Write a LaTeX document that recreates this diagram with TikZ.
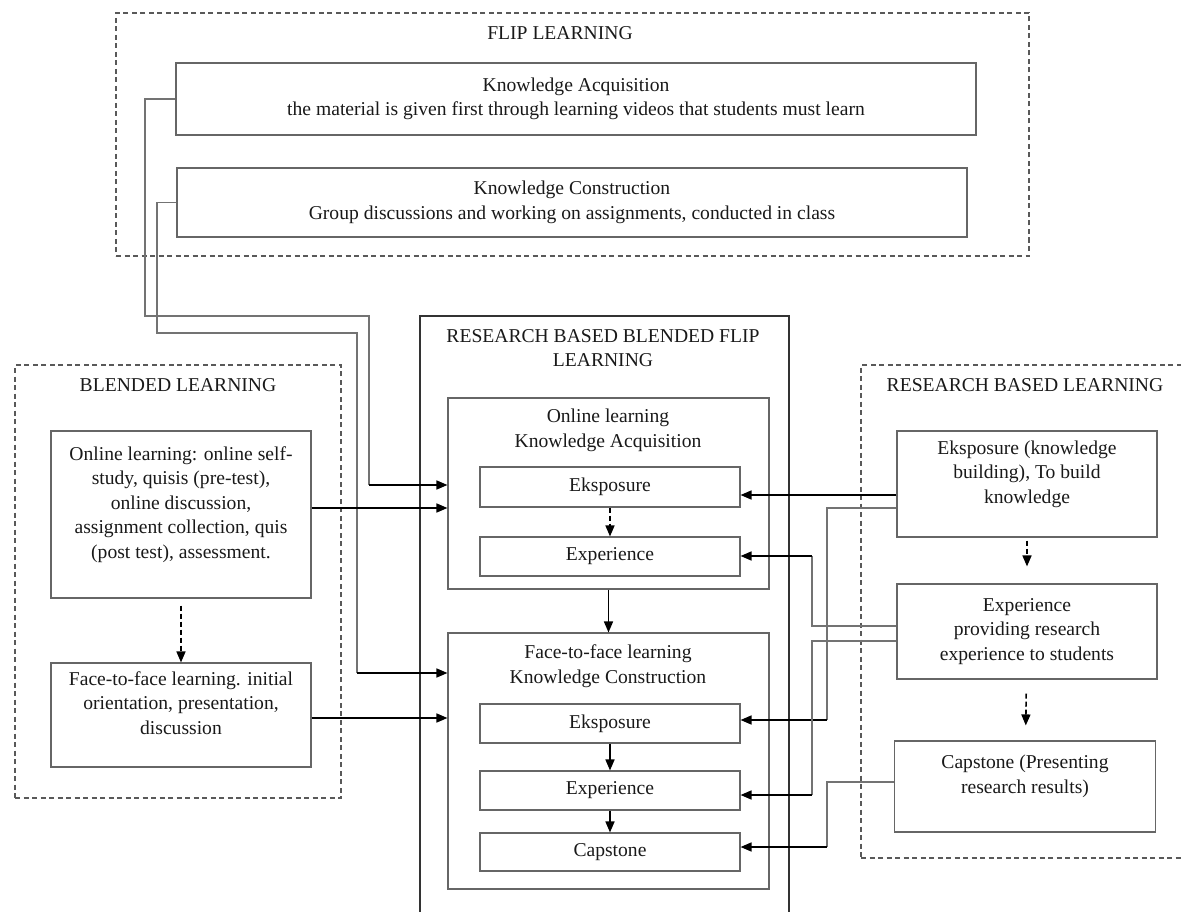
\documentclass[tikz,border=0pt]{standalone}
\usepackage{fontspec}
\setmainfont{Liberation Serif}
\usetikzlibrary{arrows.meta}
\tikzset{
  box/.style={draw=black!60, line width=1.1pt, inner sep=0pt},
  group/.style={draw=black!65, line width=1.1pt, dash pattern=on 5pt off 3.5pt},
  link/.style={draw=black!55, line width=1.1pt},
  arr/.style={line width=1.6pt, -{Triangle[length=11pt,width=9pt]}},
  dasharr/.style={arr, dash pattern=on 5pt off 3pt},
}
\begin{document}
\begin{tikzpicture}[x=1pt,y=-1pt,font=\fontsize{19.6}{24.5}\selectfont,text=black!90,align=center]
\useasboundingbox (0,0) rectangle (1181,912);
\node[group, minimum width=913, minimum height=243] (flip) at (572.5,134.5) {};
\node (fliptitle) at (560,33) {FLIP LEARNING};
\node[box, minimum width=800, minimum height=72] (ka) at (576,99) {Knowledge Acquisition\\the material is given first through learning videos that students must learn};
\node[box, minimum width=790, minimum height=69] (kc) at (572,202.5) {Knowledge Construction\\Group discussions and working on assignments, conducted in class};
\node[box, draw=black!80, minimum width=369, minimum height=620] (rbbfl) at (604.5,626) {};
\node (rbbfltitle) at (603,348) {RESEARCH BASED BLENDED FLIP\\LEARNING};
\node[box, minimum width=321, minimum height=191] (online) at (608.5,493.5) {};
\node (onlinetitle) at (608,430.5) {Online learning\\Knowledge Acquisition};
\node[box, minimum width=260, minimum height=40] (eksA) at (610,487) {Eksposure};
\node[box, minimum width=260, minimum height=39] (expA) at (610,556.5) {Experience};
\node[box, minimum width=321, minimum height=256] (f2f) at (608.5,761) {};
\node (f2ftitle) at (608,666) {Face-to-face learning\\Knowledge Construction};
\node[box, minimum width=260, minimum height=39] (eksB) at (610,723.5) {Eksposure};
\node[box, minimum width=260, minimum height=39] (expB) at (610,790.5) {Experience};
\node[box, minimum width=260, minimum height=38] (capB) at (610,852) {Capstone};
\node[group, minimum width=326, minimum height=433] (blended) at (178,581.5) {};
\node (blendedtitle) at (178,385) {BLENDED LEARNING};
\node[box, minimum width=260, minimum height=167] (blonline) at (181,514.5) {Online learning: online self-\\study, quisis (pre-test),\\online discussion,\\assignment collection, quis\\(post test), assessment.\\\mbox{}};
\node[box, minimum width=260, minimum height=104] (blface) at (181,715) {Face-to-face learning. initial\\orientation, presentation,\\discussion\\\mbox{}};
\node[group, minimum width=360, minimum height=493] (rbl) at (1041,611.5) {};
\node (rbltitle) at (1025,385) {RESEARCH BASED LEARNING};
\node[box, minimum width=260, minimum height=106] (rbeks) at (1027,484) {Eksposure (knowledge\\building), To build\\knowledge\\\mbox{}};
\node[box, minimum width=260, minimum height=95] (rbexp) at (1027,631.5) {Experience\\providing research\\experience to students};
\node[box, minimum width=261, minimum height=91] (rbcap) at (1025,786.5) {Capstone (Presenting\\research results)\\\mbox{}};
\draw[dasharr] (eksA) -- (expA);
\draw[arr] (online) -- (f2f);
\draw[arr] (eksB) -- (expB);
\draw[arr] (expB) -- (capB);
\draw[dasharr, shorten <=7pt] (blonline) -- (blface);
\draw[dasharr, shorten <=3pt, shorten >=17pt] (rbeks) -- (rbexp);
\draw[dasharr, shorten <=14pt, shorten >=15pt] (rbexp) -- (rbcap);
\coordinate (katurn) at (369,485);
\draw[link] (ka.west) -| (145,316) -| (katurn);
\draw[arr] (katurn) -- (katurn -| online.west);
\coordinate (kcturn) at (357,673);
\draw[link] (kc.west) -| (157,333) -| (kcturn);
\draw[arr] (kcturn) -- (kcturn -| f2f.west);
\draw[arr] (blonline.east |- 0,508) -- (online.west |- 0,508);
\draw[arr] (blface.east |- 0,718) -- (f2f.west |- 0,718);
\draw[arr] (rbeks.west |- 0,495) -- (eksA.east |- 0,495);
\coordinate (eksturn) at (827,720);
\draw[link] (rbeks.west |- 0,508) -| (eksturn);
\draw[arr] (eksturn) -- (eksturn -| eksB.east);
\coordinate (expturnA) at (812,556);
\draw[link] (rbexp.west |- 0,626) -| (expturnA);
\draw[arr] (expturnA) -- (expturnA -| expA.east);
\coordinate (expturnB) at (812,795);
\draw[link] (rbexp.west |- 0,641) -| (expturnB);
\draw[arr] (expturnB) -- (expturnB -| expB.east);
\coordinate (capturn) at (827,847);
\draw[link] (rbcap.west |- 0,782) -| (capturn);
\draw[arr] (capturn) -- (capturn -| capB.east);
\end{tikzpicture}
\end{document}
